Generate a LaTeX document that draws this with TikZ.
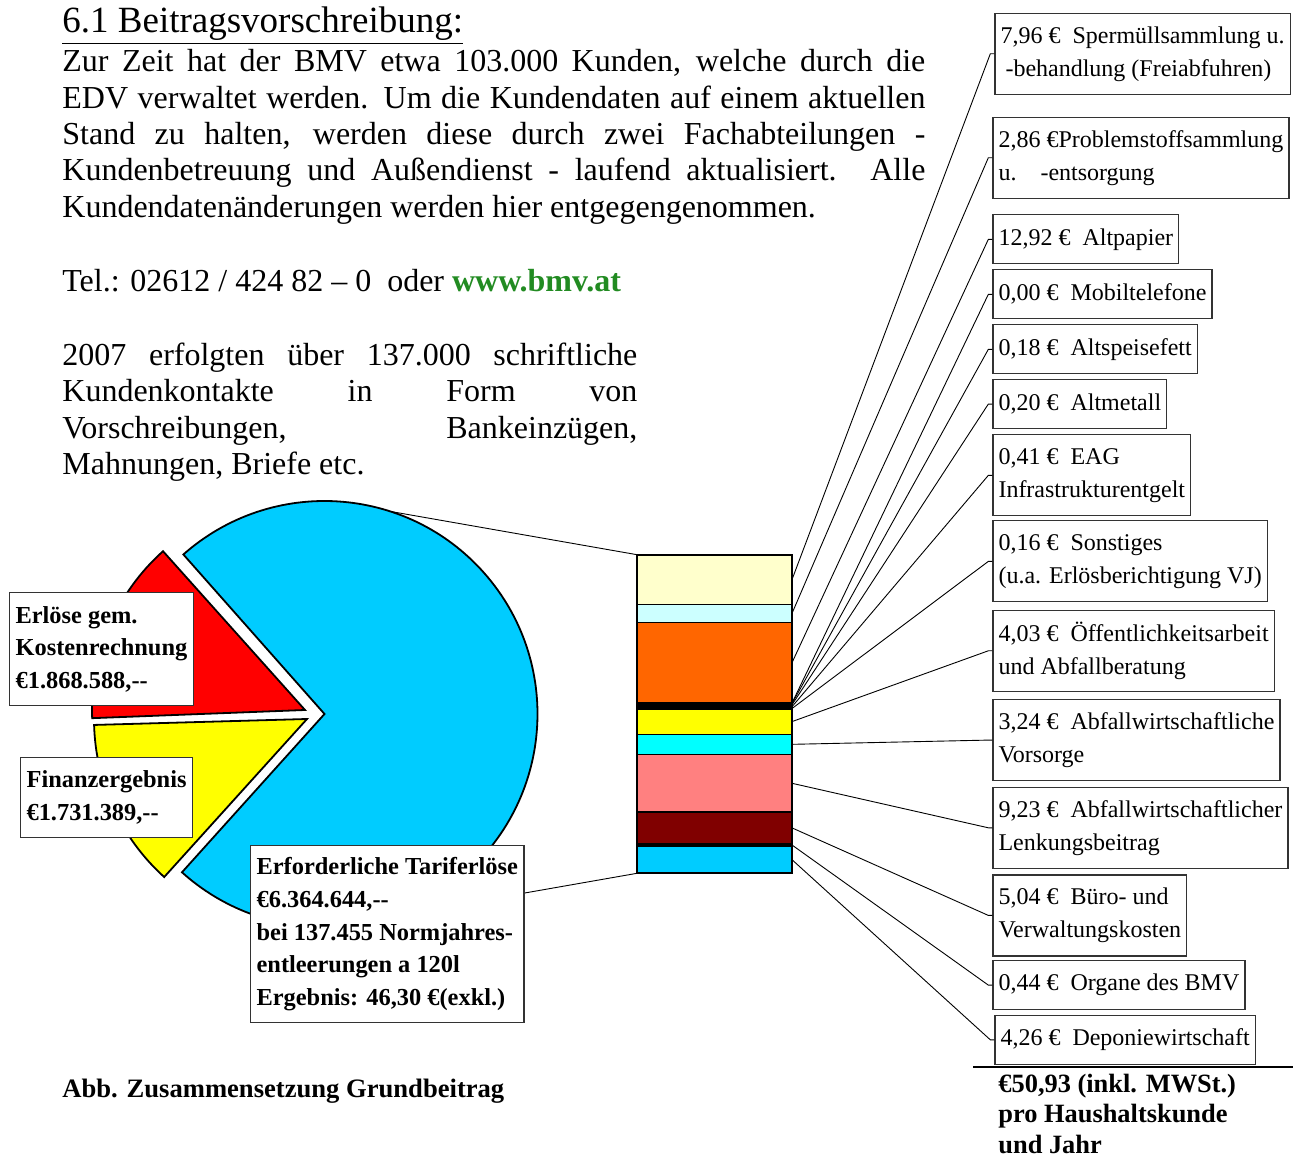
\documentclass[tikz,border=0pt]{standalone}
\usepackage{fontspec}
\setmainfont{Liberation Serif}
\usetikzlibrary{positioning,calc}

\definecolor{pieblue}{RGB}{0,204,255}
\definecolor{piered}{RGB}{255,0,0}
\definecolor{pieyellow}{RGB}{255,255,0}
\definecolor{segcream}{RGB}{255,255,204}
\definecolor{segice}{RGB}{204,255,255}
\definecolor{segorange}{RGB}{255,102,0}
\definecolor{segcyan}{RGB}{0,255,255}
\definecolor{segsalmon}{RGB}{255,128,128}
\definecolor{segmaroon}{RGB}{128,0,0}
\definecolor{webgreen}{RGB}{34,139,34}

\newcommand{\fillline}[2]{\makebox[#1][s]{#2}}

\begin{document}
\begin{tikzpicture}[
      x=0.5pt, y=-0.5pt,
      every node/.style={inner sep=0pt},
      slice/.style={draw,line width=0.9pt,line join=miter},
      segment/.style={draw,line width=0.7pt},
      leader/.style={draw,line width=0.45pt},
      costbox/.style={draw=black!80,line width=0.6pt,fill=white,anchor=north west,
        align=left,inner xsep=2.8pt,minimum height=40.5pt,font=\fontsize{12}{16.5}\selectfont},
      costline/.style={costbox,minimum height=24.5pt},
      piebox/.style={draw=black!80,line width=0.6pt,fill=white,anchor=north west,
        align=left,inner xsep=3pt,font=\bfseries\fontsize{12.2}{16.3}\selectfont},
      bodytext/.style={anchor=base west,align=left,font=\fontsize{16}{18.2}\selectfont},
      ]
      \useasboundingbox (0,0) rectangle (1295,1159);

      % text (multi-line nodes sit on their last baseline)
      \node[anchor=base west,font=\fontsize{18.5}{22}\selectfont] (title) at (62,33)
        {\underline{6.1 Beitragsvorschreibung:}};
      \node[bodytext] (intro) at (62,217.3) {%
        \fillline{431.5pt}{Zur Zeit hat der BMV etwa 103.000 Kunden, welche durch die}\\
        \fillline{431.5pt}{EDV verwaltet werden. Um die Kundendaten auf einem aktuellen}\\
        \fillline{431.5pt}{Stand zu halten, werden diese durch zwei Fachabteilungen -}\\
        \fillline{431.5pt}{Kundenbetreuung und Außendienst - laufend aktualisiert. Alle}\\
        Kundendatenänderungen werden hier entgegengenommen.};
      \node[bodytext] (contact) at (62,291.7)
        {Tel.: 02612 / 424 82 – 0\ \ oder \textcolor{webgreen}{\textbf{www.bmv.at}}};
      \node[bodytext] (letters) at (62,474.5) {%
        \fillline{287.5pt}{2007 erfolgten über 137.000 schriftliche}\\
        \fillline{287.5pt}{Kundenkontakte in Form von}\\
        \fillline{287.5pt}{Vorschreibungen, Bankeinzügen,}\\
        Mahnungen, Briefe etc.};

      % pie
      \foreach \ax/\ay/\from/\to/\col in {324.5/714/-131.5/132/pieblue,
          305/710/-182.2/-131.8/piered, 307/719/-227.9/-181.6/pieyellow}
        \path[slice,fill=\col] (\ax,\ay) -- ++(\from:213)
          arc[start angle=\from,end angle=\to,radius=213] -- cycle;
      \path (324.5,714) ++(-72:213) coordinate (pieTop);
      \path (324.5,714) ++(72:213) coordinate (pieBottom);

      % bar
      \coordinate (barTopLeft) at (637,554.7);
      \coordinate (barBottomLeft) at (637,873.3);
      \path[leader] (pieTop) -- (barTopLeft);
      \path[leader] (pieBottom) -- (barBottomLeft);
      \foreach \v/\col/\n [remember=\ylow as \yhigh (initially 554.7)] in {
          7.96/segcream/Sperr, 2.86/segice/Problem, 12.92/segorange/Papier,
          0/black/Mobil, 0.18/black/Fett, 0.20/black/Metall, 0.41/black/EAG,
          0.16/black/Sonst, 4.03/pieyellow/PR, 3.24/segcyan/Vorsorge,
          9.23/segsalmon/Lenkung, 5.04/segmaroon/Buero, 0.44/black/Organe,
          4.26/pieblue/Deponie}
      {
        \pgfmathsetmacro{\ylow}{\yhigh+6.25*\v}
        \path[segment,fill=\col] (637,\yhigh) rectangle (792,\ylow);
        \coordinate (bar\n) at (792,{(\yhigh+\ylow)/2});
      }
      \draw[line width=1pt] (barTopLeft) rectangle (792,873.3);

      % pie labels
      \node[piebox,minimum height=56.5pt] (boxErloese) at (9,592)
        {Erlöse gem.\\Kostenrechnung\\€1.868.588,-{}-};
      \node[piebox,minimum height=40pt] (boxFinanz) at (20,757)
        {Finanzergebnis\\€1.731.389,-{}-};
      \node[piebox,minimum height=88.5pt] (boxTarif) at (250,845)
        {Erforderliche Tariferlöse\\€6.364.644,-{}-\\bei 137.455 Normjahres-\\
         entleerungen a 120l\\Ergebnis: 46,30 €(exkl.)};

      % cost labels
      \node[costbox] (costSperr) at (994.3,12.7)
        {7,96 €~~Spermüllsammlung u.\\\hspace*{2.5pt}-behandlung (Freiabfuhren)};
      \node[costbox] (costProblem) at (992.3,116.7)
        {2,86 €Problemstoffsammlung\\u.~~~~-entsorgung};
      \node[costline] (costPapier) at (992.3,214.3) {12,92 €~~Altpapier};
      \node[costline] (costMobil) at (992.3,269.3) {0,00 €~~Mobiltelefone};
      \node[costline] (costFett) at (992.3,324.3) {0,18 €~~Altspeisefett};
      \node[costline] (costMetall) at (992.3,379) {0,20 €~~Altmetall};
      \node[costbox] (costEAG) at (992.3,434.3) {0,41 €~~EAG\\Infrastrukturentgelt};
      \node[costbox] (costSonst) at (992.3,520.3)
        {0,16 €~~Sonstiges\\(u.a. Erlösberichtigung VJ)};
      \node[costbox] (costPR) at (992.3,609.7)
        {4,03 €~~Öffentlichkeitsarbeit\\und Abfallberatung};
      \node[costbox] (costVorsorge) at (992.3,699)
        {3,24 €~~Abfallwirtschaftliche\\Vorsorge};
      \node[costbox] (costLenkung) at (992.3,786.7)
        {9,23 €~~Abfallwirtschaftlicher\\Lenkungsbeitrag};
      \node[costbox] (costBuero) at (992.3,874.3) {5,04 €~~Büro- und\\Verwaltungskosten};
      \node[costline] (costOrgane) at (992.3,960) {0,44 €~~Organe des BMV};
      \node[costline] (costDeponie) at (994.3,1014.7) {4,26 €~~Deponiewirtschaft};

      \foreach \n in {Sperr,Problem,Papier,Mobil,Fett,Metall,EAG,Sonst,PR,
          Vorsorge,Lenkung,Buero,Organe,Deponie}
        \path[leader] (bar\n) -- ([xshift=-2pt]cost\n.west) -- (cost\n.west);

      % total
      \draw[line width=0.75pt] (973,1067) -- (1293,1067);
      \node[anchor=base west,align=left,font=\bfseries\fontsize{13.2}{15.3}\selectfont]
        (total) at (998,1153.5) {€50,93 (inkl. MWSt.)\\pro Haushaltskunde\\und Jahr};
      \node[anchor=base west,font=\bfseries\fontsize{13.3}{16}\selectfont]
        (caption) at (62,1097) {Abb. Zusammensetzung Grundbeitrag};
\end{tikzpicture}
\end{document}
